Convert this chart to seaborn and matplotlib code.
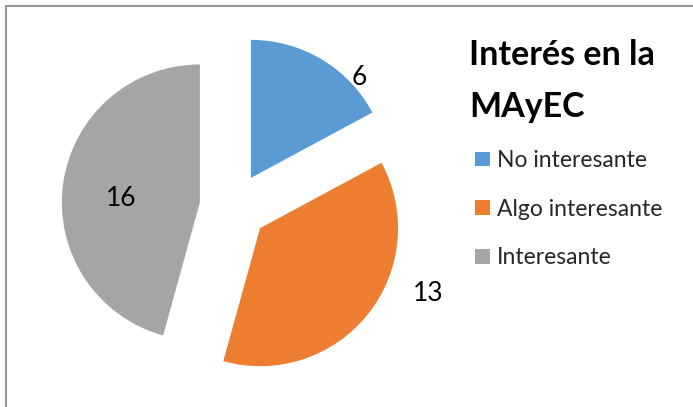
import matplotlib
matplotlib.use("Agg")
import matplotlib.pyplot as plt
import seaborn as sns
import numpy as np
from matplotlib.lines import Line2D

# Data
categories = ["No interesante", "Algo interesante", "Interesante"]
counts = [6, 13, 16]
chart_title = "Interés en la\nMAyEC"

colors = ["#5B9BD5", "#ED7D31", "#A5A5A5"]

sns.set_theme(style="white")
plt.rcParams["font.family"] = ["Lato", "DejaVu Sans"]

W, H = 693, 407
fig = plt.figure(figsize=(W / 100, H / 100), dpi=100)
ax = fig.add_axes([0, 0, 1, 1])

# pie radius and centre in pixels (from the top-left corner)
R = 138
cx, cy = 233.5, 207

wedges, _ = ax.pie(counts, colors=colors, startangle=90, counterclock=False,
                   explode=[0.246] * len(counts), radius=1,
                   wedgeprops=dict(linewidth=0))
ax.set_aspect("auto")
ax.set_xlim(-cx / R, (W - cx) / R)
ax.set_ylim(-(H - cy) / R, cy / R)
ax.axis("off")

# value labels, placed around each exploded slice
label_angles = [43.5, -20.6, 175.1]
label_radii = [1.08, 1.30, 0.57]
for w, n, a, r in zip(wedges, counts, label_angles, label_radii):
    ox, oy = w.center
    t = np.deg2rad(a)
    ax.text(ox + r * np.cos(t), oy + r * np.sin(t), str(n),
            ha="center", va="center_baseline", fontsize=19, color="black")

# title of the legend
fig.text(469 / W, 1 - 39 / H, chart_title, fontsize=24.5, fontweight="bold",
         ha="left", va="top", linespacing=1.78, color="black")

fig.legend(wedges, categories, loc="upper left",
           bbox_to_anchor=(475 / W, 1 - 150 / H), frameon=False,
           fontsize=16.5, handlelength=0.655, handleheight=0.61,
           handletextpad=0.31, labelspacing=1.21, borderpad=0,
           borderaxespad=0)

# chart area border (only the left and top edges are visible)
fig.add_artist(Line2D([6 / W, 6 / W], [0, 1 - 6 / H], transform=fig.transFigure,
                      color="#9a9a9a", lw=1.5))
fig.add_artist(Line2D([6 / W, 1], [1 - 6 / H, 1 - 6 / H], transform=fig.transFigure,
                      color="#9a9a9a", lw=1.5))

fig.savefig("out.png", dpi=100)
